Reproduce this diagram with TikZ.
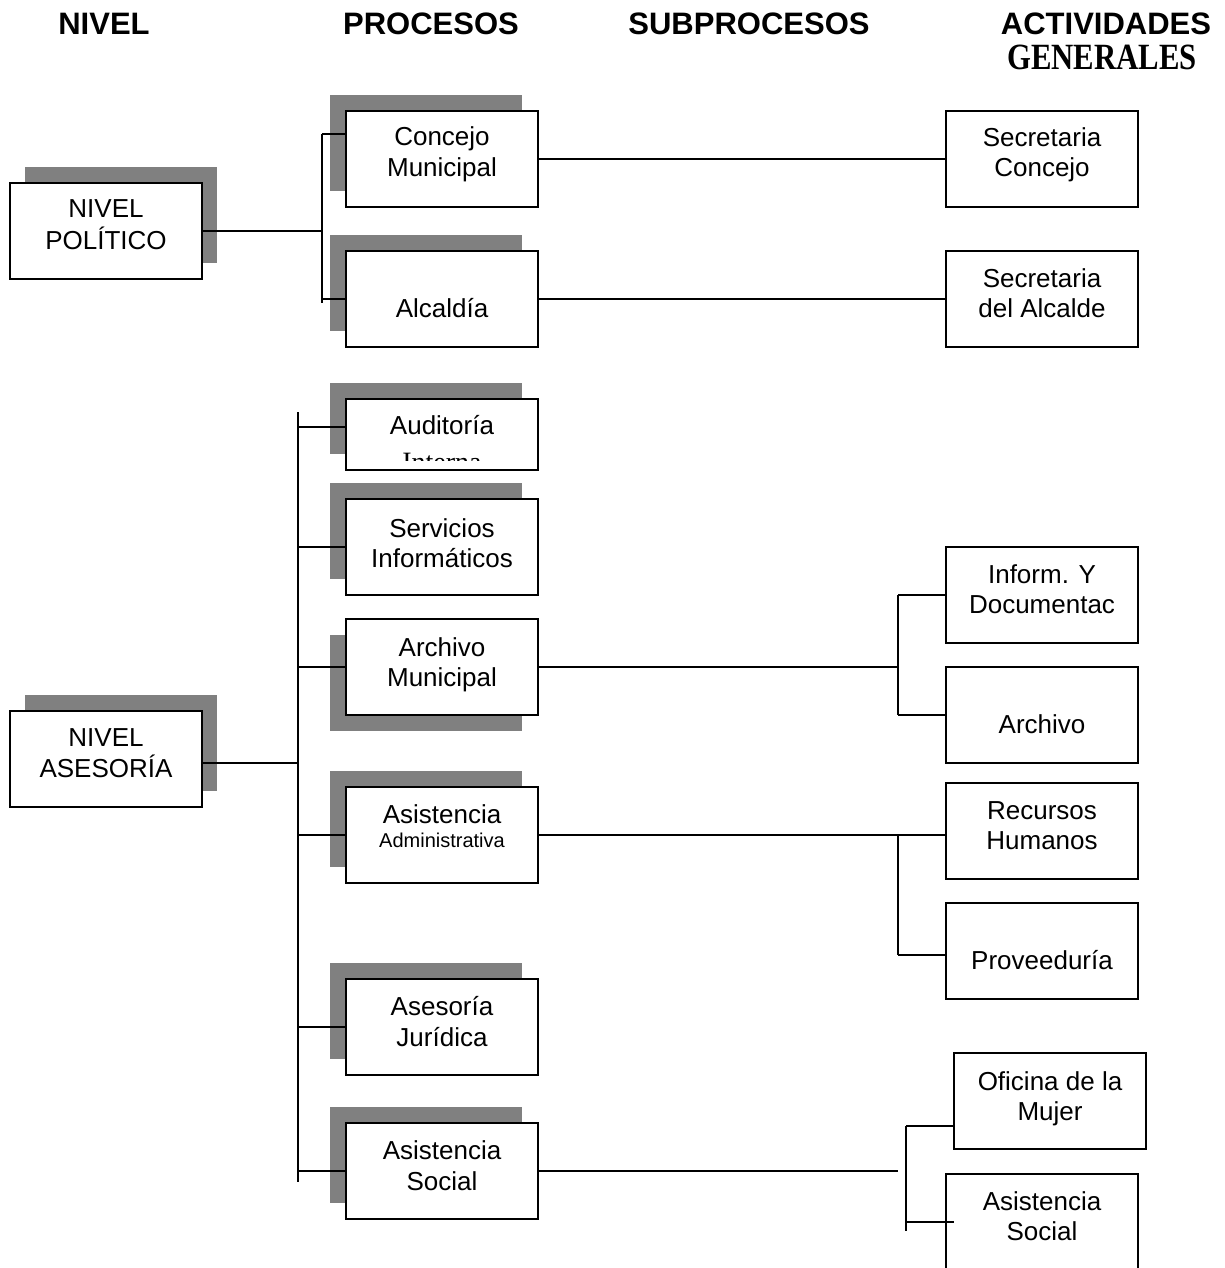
\documentclass[tikz,border=0pt]{standalone}
\usepackage{fontspec}
\usepackage{graphicx}
\setmainfont{Liberation Sans}
\newfontfamily\timesb{Liberation Serif}
\usetikzlibrary{calc,shadows}
\definecolor{shadowgray}{HTML}{808080}
\begin{document}
\begin{tikzpicture}[x=1pt,y=-1pt,
  box/.style={draw=black, line width=2pt, fill=white, rectangle, minimum width=192pt,
    minimum height=96pt, inner sep=0pt, outer sep=0pt, anchor=north west},
  shl/.style={general shadow={fill=shadowgray, shadow xshift=-16pt, shadow yshift=16pt}},
  shd/.style={general shadow={fill=shadowgray, shadow xshift=-16pt, shadow yshift=-16pt}},
  shr/.style={general shadow={fill=shadowgray, shadow xshift=15pt, shadow yshift=16pt}},
  conn/.style={draw=black, line width=2pt},
  txt/.style={font=\fontsize{26}{30}\selectfont, anchor=base, inner sep=0pt},
  small/.style={font=\fontsize{20}{24}\selectfont, anchor=base, inner sep=0pt},
  hdr/.style={font=\bfseries\fontsize{31}{36}\selectfont, anchor=base, inner sep=0pt}]
\clip (0,0) rectangle (1225,1268);
\fill[white] (0,0) rectangle (1225,1268);

% headers
\node[hdr] (h1) at (104,35) {NIVEL};
\node[hdr] (h2) at (431,35) {PROCESOS};
\node[hdr] (h3) at (749,35) {SUBPROCESOS};
\node[hdr] (h4) at (1106,35) {ACTIVIDADES};
\node[anchor=base, inner sep=0pt, font=\timesb\bfseries\fontsize{37}{40}\selectfont] (h5) at (1102,70) {\scalebox{0.83}[1]{GENERALES}};

% level boxes
\node[box, shr] (np) at (10,183) {};
\node[box, shr] (na) at (10,711) {};
% process boxes
\node[box, shl] (cm) at (346,111) {};
\node[box, shl] (al) at (346,251) {};
\node[box, shl, minimum height=71pt] (ai) at (346,399) {};
\node[box, shl] (si) at (346,499) {};
\node[box, shd] (am) at (346,619) {};
\node[box, shl] (aa) at (346,787) {};
\node[box, shl] (aj) at (346,979) {};
\node[box, shl] (as) at (346,1123) {};
% activity boxes
\node[box] (sc) at (946,111) {};
\node[box] (sa) at (946,251) {};
\node[box] (id) at (946,547) {};
\node[box] (ar) at (946,667) {};
\node[box] (rh) at (946,783) {};
\node[box] (pv) at (946,903) {};
\node[box] (om) at (954,1053) {};
\node[box] (sr) at (946,1174) {};

% texts
\node[txt] (np1) at ($(np.north)+(0,35)$) {NIVEL};
\node[txt] (np2) at ($(np.north)+(0,66)$) {POLÍTICO};
\node[txt] (na1) at ($(na.north)+(0,35)$) {NIVEL};
\node[txt] (na2) at ($(na.north)+(0,66)$) {ASESORÍA};
\node[txt] (cm1) at ($(cm.north)+(0,35)$) {Concejo};
\node[txt] (cm2) at ($(cm.north)+(0,66)$) {Municipal};
\node[txt] (al2) at ($(al.north)+(0,66)$) {Alcaldía};
\node[txt] (ai1) at ($(ai.north)+(0,35)$) {Auditoría};
\begin{scope}
  \clip (347,400) rectangle (537,460);
  \node[anchor=base, inner sep=0pt, font=\timesb\fontsize{28}{30}\selectfont] (ai2) at ($(ai.north)+(0,72)$) {Interna};
\end{scope}
\node[txt] (si1) at ($(si.north)+(0,38)$) {Servicios};
\node[txt] (si2) at ($(si.north)+(0,68)$) {Informáticos};
\node[txt] (am1) at ($(am.north)+(0,37)$) {Archivo};
\node[txt] (am2) at ($(am.north)+(0,67)$) {Municipal};
\node[txt] (aa1) at ($(aa.north)+(0,36)$) {Asistencia};
\node[small] (aa2) at ($(aa.north)+(0,60)$) {Administrativa};
\node[txt] (aj1) at ($(aj.north)+(0,36)$) {Asesoría};
\node[txt] (aj2) at ($(aj.north)+(0,67)$) {Jurídica};
\node[txt] (as1) at ($(as.north)+(0,36)$) {Asistencia};
\node[txt] (as2) at ($(as.north)+(0,67)$) {Social};
\node[txt] (sc1) at ($(sc.north)+(0,36)$) {Secretaria};
\node[txt] (sc2) at ($(sc.north)+(0,66)$) {Concejo};
\node[txt] (sa1) at ($(sa.north)+(0,36)$) {Secretaria};
\node[txt] (sa2) at ($(sa.north)+(0,66)$) {del Alcalde};
\node[txt] (id1) at ($(id.north)+(0,36)$) {Inform. Y};
\node[txt] (id2) at ($(id.north)+(0,66)$) {Documentac};
\node[txt] (ar2) at ($(ar.north)+(0,66)$) {Archivo};
\node[txt] (rh1) at ($(rh.north)+(0,36)$) {Recursos};
\node[txt] (rh2) at ($(rh.north)+(0,66)$) {Humanos};
\node[txt] (pv2) at ($(pv.north)+(0,66)$) {Proveeduría};
\node[txt] (om1) at ($(om.north)+(0,37)$) {Oficina de la};
\node[txt] (om2) at ($(om.north)+(0,67)$) {Mujer};
\node[txt] (sr1) at ($(sr.north)+(0,36)$) {Asistencia};
\node[txt] (sr2) at ($(sr.north)+(0,66)$) {Social};

% connectors: nivel politico
\coordinate (pT) at (322,134);
\coordinate (pA) at (322,299);
\coordinate (pB) at (322,303);
\draw[conn] (np.east) -- (np.east -| pT);
\draw[conn] (pT) -- (pB);
\draw[conn] (pT) -- (pT -| cm.west);
\draw[conn] (pA) -- (pA -| al.west);
\draw[conn] (cm.east) -- (sc.west);
\draw[conn] (al.east) -- (sa.west);

% connectors: nivel asesoria
\coordinate (aT) at (298,412);
\coordinate (aB) at (298,1182);
\coordinate (aN) at (298,763);
\coordinate (aI) at (298,427);
\draw[conn] (aN -| na.east) -- (aN);
\draw[conn] (aT) -- (aB);
\draw[conn] (aI) -- (aI -| ai.west);
\draw[conn] (aT |- si.west) -- (si.west);
\draw[conn] (aT |- am.west) -- (am.west);
\draw[conn] (aT |- aa.west) -- (aa.west);
\draw[conn] (aT |- aj.west) -- (aj.west);
\draw[conn] (aT |- as.west) -- (as.west);

% archivo municipal
\coordinate (j1) at (898,667);
\draw[conn] (am.east) -- (j1);
\draw[conn] (j1 |- id.west) -- (j1 |- ar.west);
\draw[conn] (j1 |- id.west) -- (id.west);
\draw[conn] (j1 |- ar.west) -- (ar.west);

% asistencia administrativa
\coordinate (k1) at (898,835);
\coordinate (k2) at (898,955);
\draw[conn] (aa.east) -- (aa.east -| rh.west);
\draw[conn] (k1) -- (k2);
\draw[conn] (k2) -- (k2 -| pv.west);

% asistencia social
\coordinate (s0) at (898,1171);
\coordinate (s1) at (906,1126);
\coordinate (s2) at (906,1222);
\coordinate (s3) at (906,1231);
\draw[conn] (as.east) -- (s0);
\draw[conn] (s1) -- (s3);
\draw[conn] (s1) -- (s1 -| om.west);
\draw[conn] (s2) -- (s2 -| om.west);
\end{tikzpicture}
\end{document}
